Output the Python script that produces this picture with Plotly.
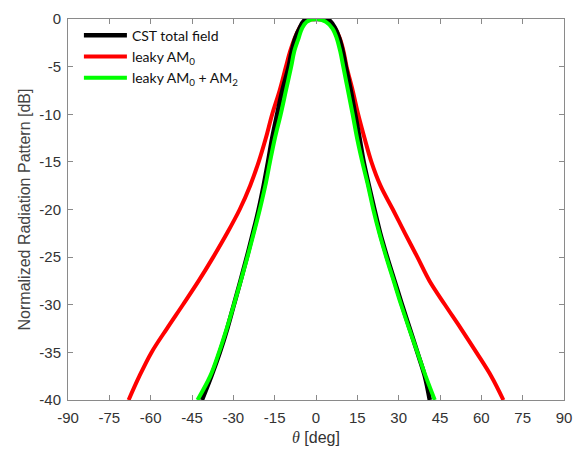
import plotly.graph_objects as go

# ---- data ----
# CST total field
cst_theta = [-41.4, -38.0, -34.9, -32.2, -29.8, -27.4, -25.1, -22.9, -20.8, -19.0, -17.4,
             -15.9, -14.1, -12.2, -9.9, -8.8, -7.5, -6.0, -4.0, 0.4, 4.6,
             7.0, 8.4, 9.7, 10.8, 12.6, 14.2, 15.8, 17.3, 19.2, 21.2,
             23.3, 25.8, 28.5, 31.2, 34.0, 36.8, 39.5, 41.3]
cst_db = [-40.0, -37.5, -35.0, -32.5, -30.0, -27.5, -25.0, -22.5, -20.0, -17.5, -15.0,
          -12.5, -10.0, -7.5, -5.0, -3.4, -2.0, -1.0, -0.1, 0.0, -0.1,
          -1.0, -2.0, -3.4, -5.0, -7.5, -10.0, -12.5, -15.0, -17.5, -20.0,
          -22.5, -25.0, -27.5, -30.0, -32.5, -35.0, -37.5, -40.0]

# leaky AM0
am0_theta = [-68.0, -64.1, -59.7, -54.1, -48.3, -42.6, -37.3, -32.3, -27.7, -23.9, -20.8,
             -18.2, -15.9, -13.2, -10.9, -9.4, -7.7, -6.1, -4.4, 0.4, 4.8,
             7.0, 8.6, 10.0, 11.1, 13.3, 15.3, 17.6, 20.1, 23.4, 27.9,
             32.3, 36.8, 41.2, 46.8, 52.6, 58.2, 63.6, 68.0]
am0_db = [-40.0, -37.5, -35.0, -32.5, -30.0, -27.5, -25.0, -22.5, -20.0, -17.5, -15.0,
          -12.5, -10.0, -7.5, -5.0, -3.4, -2.0, -1.0, -0.3, 0.0, -0.3,
          -1.0, -2.0, -3.4, -5.0, -7.5, -10.0, -12.5, -15.0, -17.5, -20.0,
          -22.5, -25.0, -27.5, -30.0, -32.5, -35.0, -37.5, -40.0]

# leaky AM0 + AM2
am02_theta = [-43.0, -38.4, -35.2, -32.4, -29.8, -27.3, -24.9, -22.6, -20.4, -18.4, -16.7,
              -14.9, -12.8, -10.9, -9.0, -7.9, -6.3, -5.1, -3.4, 0.3, 3.6,
              6.0, 7.5, 8.8, 9.9, 11.6, 13.3, 14.9, 16.8, 18.9, 20.8,
              23.0, 25.5, 28.2, 30.9, 33.8, 36.8, 39.8, 43.1]
am02_db = [-40.0, -37.5, -35.0, -32.5, -30.0, -27.5, -25.0, -22.5, -20.0, -17.5, -15.0,
           -12.5, -10.0, -7.5, -5.0, -3.4, -2.0, -1.0, -0.3, 0.0, -0.3,
           -1.0, -2.0, -3.4, -5.0, -7.5, -10.0, -12.5, -15.0, -17.5, -20.0,
           -22.5, -25.0, -27.5, -30.0, -32.5, -35.0, -37.5, -40.0]

x_ticks = [-90, -75, -60, -45, -30, -15, 0, 15, 30, 45, 60, 75, 90]
x_ticktext = ["-90", "-75", "-60", "-45", "-30", "-15", "0", "15", "30", "45", "60", "75", "90"]
y_ticks = [0, -5, -10, -15, -20, -25, -30, -35, -40]
y_ticktext = ["0", "-5", "-10", "-15", "-20", "-25", "-30", "-35", "-40"]

names = ["CST total field", "leaky AM<sub>0</sub>", "leaky AM<sub>0</sub> + AM<sub>2</sub>"]

fig = go.Figure()
# drawing order: red below black, green on top; legend order set by legendrank
fig.add_trace(go.Scatter(x=am0_theta, y=am0_db, mode="lines", name=names[1], legendrank=2,
                         line=dict(color="#ff0000", width=4, shape="spline", smoothing=1.0)))
fig.add_trace(go.Scatter(x=cst_theta, y=cst_db, mode="lines", name=names[0], legendrank=1,
                         line=dict(color="#000000", width=4.5, shape="spline", smoothing=1.0)))
fig.add_trace(go.Scatter(x=am02_theta, y=am02_db, mode="lines", name=names[2], legendrank=3,
                         line=dict(color="#00ff00", width=4, shape="spline", smoothing=1.0)))

axis_common = dict(showline=True, linecolor="#8a8a8a", linewidth=1, mirror="ticks",
                   ticks="inside", ticklen=5, tickcolor="#8a8a8a", showgrid=False,
                   zeroline=False, tickfont=dict(family="Liberation Sans, Arial", size=15, color="#333333"))

fig.update_xaxes(range=[-90, 90], tickvals=x_ticks, ticktext=x_ticktext,
                 title=dict(text="<span style=\"font-family:'Liberation Serif';font-style:italic\">θ</span> [deg]",
                            font=dict(family="Liberation Sans, Arial", size=16, color="#333333"), standoff=6),
                 ticklabelstandoff=4, **axis_common)
fig.update_yaxes(range=[-40, 0], tickvals=y_ticks, ticktext=y_ticktext,
                 title=dict(text="Normalized Radiation Pattern [dB]",
                            font=dict(family="Liberation Sans, Arial", size=16, color="#444444"), standoff=4),
                 ticklabelstandoff=3, **axis_common)

fig.update_layout(
    width=587, height=453,
    margin=dict(l=68, r=23, t=10, b=50),
    paper_bgcolor="white", plot_bgcolor="white",
    showlegend=True,
    legend=dict(x=0.022, y=0.998, xanchor="left", yanchor="top", bgcolor="rgba(255,255,255,0)",
                borderwidth=0, tracegroupgap=0, itemwidth=43,
                font=dict(family="Lato", size=14, color="#111111")),
)

fig.write_html("out.html")
